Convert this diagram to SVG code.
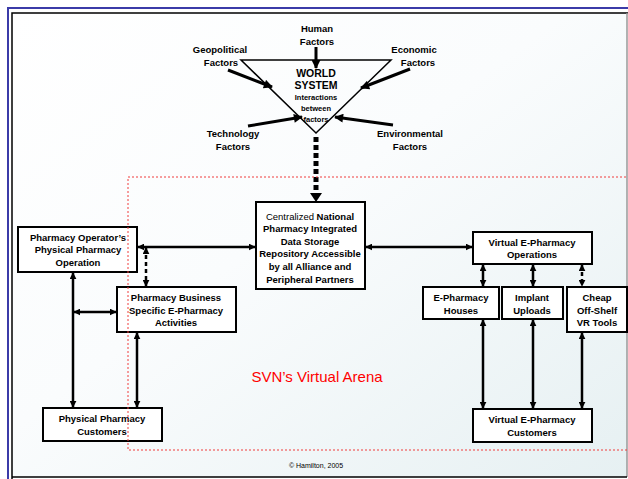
<svg xmlns="http://www.w3.org/2000/svg" width="628" height="479" viewBox="0 0 628 479">
<defs>
<linearGradient id="bg" x1="0" y1="0" x2="1" y2="1">
<stop offset="0" stop-color="#ffffff"/>
<stop offset="0.45" stop-color="#fafcfd"/>
<stop offset="1" stop-color="#e6f0f2"/>
</linearGradient>
<marker id="ah" viewBox="0 0 10 10" refX="9" refY="5" markerWidth="7" markerHeight="7" markerUnits="userSpaceOnUse" orient="auto-start-reverse">
<path d="M0,0 L10,5 L0,10 z" fill="#000"/>
</marker>
<marker id="bh" viewBox="0 0 10 10" refX="9" refY="5" markerWidth="10" markerHeight="9" markerUnits="userSpaceOnUse" orient="auto">
<path d="M0,0 L10,5 L0,10 z" fill="#000"/>
</marker>
<style>
.box{fill:#fff;stroke:#000;stroke-width:2}
.t{font-family:"Liberation Sans",Arial,sans-serif;font-size:9.5px;font-weight:bold;text-anchor:middle;fill:#000}
.w{font-size:10.5px}
.s{font-size:7.5px}
.n{font-weight:normal}
.c{fill:none;stroke:#000;stroke-width:2.5;marker-start:url(#ah);marker-end:url(#ah)}
.d{stroke-dasharray:4 3}
.f{fill:none;stroke:#000;stroke-width:3;marker-end:url(#bh)}
</style>
</defs>
<rect x="12" y="13" width="615" height="464" fill="url(#bg)"/>
<g id="frame" fill="none">
<path d="M8,479 V8 H628" stroke="#3b3ba8" stroke-width="2"/>
<path d="M12,479 V13 H628" stroke="#000" stroke-width="1.5"/>
<path d="M627,13 V477" stroke="#999" stroke-width="1.5"/>
<path d="M12,477 H627" stroke="#000" stroke-width="1.5"/>
</g>
<text x="317" y="382" font-family="Liberation Sans,Arial,sans-serif" font-size="15" fill="#f00" text-anchor="middle">SVN’s Virtual Arena</text>
<text x="316" y="468" font-family="Liberation Sans,Arial,sans-serif" font-size="7" fill="#000" text-anchor="middle">© Hamilton, 2005</text>

<g id="world">
<path d="M241,60 H391 L316,133 Z" fill="none" stroke="#000" stroke-width="1.5"/>
<text class="t w" x="316" y="77">WORLD</text>
<text class="t w" x="316" y="89">SYSTEM</text>
<text class="t s" x="316" y="100">Interactions</text>
<text class="t s" x="316" y="111">between</text>
<text class="t s" x="316" y="122">factors</text>
</g>
<g id="factors">
<text class="t" x="317" y="32">Human</text>
<text class="t" x="317" y="45">Factors</text>
<text class="t" x="220" y="53">Geopolitical</text>
<text class="t" x="221" y="66">Factors</text>
<text class="t" x="414" y="53">Economic</text>
<text class="t" x="418" y="66">Factors</text>
<text class="t" x="233" y="137">Technology</text>
<text class="t" x="233" y="150">Factors</text>
<text class="t" x="410" y="137">Environmental</text>
<text class="t" x="410" y="150">Factors</text>
</g>

<g id="n-operator"><rect class="box" x="18" y="227" width="119" height="45"/>
<text class="t" x="78" y="241">Pharmacy Operator’s</text>
<text class="t" x="78" y="253">Physical Pharmacy</text>
<text class="t" x="78" y="266">Operation</text></g>
<g id="n-business"><rect class="box" x="117" y="287" width="119" height="45"/>
<text class="t" x="176" y="301">Pharmacy Business</text>
<text class="t" x="176" y="314">Specific E-Pharmacy</text>
<text class="t" x="176" y="326">Activities</text></g>
<g id="n-central"><rect class="box" x="256" y="202" width="109" height="87"/>
<text class="t" x="310" y="220"><tspan class="n">Centralized</tspan> National</text>
<text class="t" x="310" y="232">Pharmacy Integrated</text>
<text class="t" x="310" y="245">Data Storage</text>
<text class="t" x="310" y="257">Repository Accessible</text>
<text class="t" x="310" y="270">by all Alliance and</text>
<text class="t" x="310" y="283">Peripheral Partners</text></g>
<g id="n-vops"><rect class="box" x="473" y="232" width="119" height="32"/>
<text class="t" x="532" y="246">Virtual E-Pharmacy</text>
<text class="t" x="532" y="258">Operations</text></g>
<g id="n-houses"><rect class="box" x="423" y="287" width="76" height="32"/>
<text class="t" x="461" y="301">E-Pharmacy</text>
<text class="t" x="461" y="314">Houses</text></g>
<g id="n-implant"><rect class="box" x="502" y="287" width="61" height="32"/>
<text class="t" x="532" y="301">Implant</text>
<text class="t" x="532" y="314">Uploads</text></g>
<g id="n-cheap"><rect class="box" x="567" y="287" width="60" height="45"/>
<text class="t" x="597" y="301">Cheap</text>
<text class="t" x="597" y="314">Off-Shelf</text>
<text class="t" x="597" y="326">VR Tools</text></g>
<g id="n-physcust"><rect class="box" x="43" y="408" width="119" height="33"/>
<text class="t" x="102" y="422">Physical Pharmacy</text>
<text class="t" x="102" y="435">Customers</text></g>
<g id="n-vcust"><rect class="box" x="473" y="409" width="119" height="33"/>
<text class="t" x="532" y="423">Virtual E-Pharmacy</text>
<text class="t" x="532" y="436">Customers</text></g>

<g id="connectors">
<path class="f" d="M316,47 V68"/>
<path class="f" d="M228,70 L272,87"/>
<path class="f" d="M410,69 L361,88"/>
<path class="f" d="M248,126 L302,117"/>
<path class="f" d="M393,125 L335,117"/>
<path d="M316,137 V192" fill="none" stroke="#000" stroke-width="5" stroke-dasharray="5 3"/>
<path d="M310,193 H322 L316,202 Z" fill="#000"/>
<path class="c" d="M138,247 H255"/>
<path class="c" d="M366,247 H472"/>
<path class="c d" d="M146,248 V286"/>
<path class="c" d="M73,273 V407"/>
<path class="c" d="M74,312 H116"/>
<path class="c" d="M137,333 V407"/>
<path class="c" d="M483,265 V286"/>
<path class="c" d="M533,265 V286"/>
<path class="c d" d="M582,265 V286"/>
<path class="c" d="M483,320 V408"/>
<path class="c" d="M533,320 V408"/>
<path class="c" d="M582,333 V408"/>
</g>
<rect id="arena" x="128" y="177" width="505" height="273" fill="none" stroke="#f03c3c" stroke-width="1" stroke-dasharray="2 2"/>
</svg>
